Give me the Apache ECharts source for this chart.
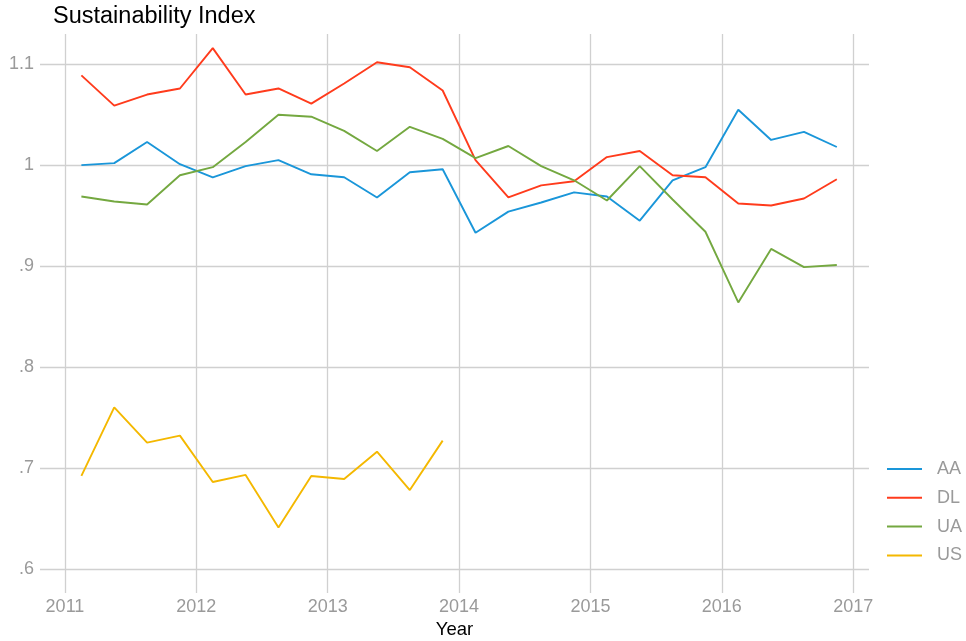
<!DOCTYPE html>
<html>
<head>
<meta charset="UTF-8">
<script src="https://cdn.jsdelivr.net/npm/echarts@6/dist/echarts.min.js"></script>
<style>
  html, body { margin: 0; padding: 0; background: #fff; }
  #chart { width: 966px; height: 641px; }
</style>
</head>
<body>
<div id="chart"></div>
<script>
// quarter midpoints (year as decimal)
var quarters = [2011.125, 2011.375, 2011.625, 2011.875,
                2012.125, 2012.375, 2012.625, 2012.875,
                2013.125, 2013.375, 2013.625, 2013.875,
                2014.125, 2014.375, 2014.625, 2014.875,
                2015.125, 2015.375, 2015.625, 2015.875,
                2016.125, 2016.375, 2016.625, 2016.875];

var aa = [1.000, 1.002, 1.023, 1.001, 0.988, 0.999, 1.005, 0.991, 0.988, 0.968, 0.993, 0.996,
          0.933, 0.954, 0.963, 0.973, 0.969, 0.945, 0.985, 0.998, 1.055, 1.025, 1.033, 1.018];
var dl = [1.089, 1.059, 1.070, 1.076, 1.116, 1.070, 1.076, 1.061, 1.081, 1.102, 1.097, 1.074,
          1.005, 0.968, 0.980, 0.984, 1.008, 1.014, 0.990, 0.988, 0.962, 0.960, 0.967, 0.986];
var ua = [0.969, 0.964, 0.961, 0.990, 0.998, 1.023, 1.050, 1.048, 1.034, 1.014, 1.038, 1.026,
          1.007, 1.019, 0.999, 0.985, 0.965, 0.999, 0.966, 0.934, 0.864, 0.917, 0.899, 0.901];
var us = [0.692, 0.760, 0.725, 0.732, 0.686, 0.693, 0.641, 0.692, 0.689, 0.716, 0.678, 0.727];

var airlines = ['AA', 'DL', 'UA', 'US'];
var colors = ['#1a96d9', '#ff3b1c', '#74a840', '#f4b800'];
var yearTicks = [2011, 2012, 2013, 2014, 2015, 2016, 2017];
var indexTicks = [0.6, 0.7, 0.8, 0.9, 1, 1.1];

function pairs(vals) {
    var out = [];
    for (var i = 0; i < vals.length; i++) {
        out.push([quarters[i], vals[i]]);
    }
    return out;
}

var allVals = [aa, dl, ua, us];
var series = [];
for (var k = 0; k < airlines.length; k++) {
    series.push({
        name: airlines[k],
        type: 'line',
        data: pairs(allVals[k]),
        symbol: 'none',
        lineStyle: { width: 1.9, color: colors[k] },
        itemStyle: { color: colors[k] }
    });
}

var chart = echarts.init(document.getElementById('chart'));
chart.setOption({
    animation: false,
    title: {
        text: 'Sustainability Index',
        left: 53,
        top: 5,
        padding: 0,
        textStyle: { fontFamily: 'Liberation Sans', fontSize: 23.5, fontWeight: 'normal', color: '#000' }
    },
    legend: {
        data: airlines.map(function (n) { return { name: n, icon: 'rect' }; }),
        orient: 'vertical',
        left: 887,
        top: 460,
        padding: 0,
        itemWidth: 35,
        itemHeight: 2,
        itemGap: 10.8,
        textStyle: { fontFamily: 'Liberation Sans', fontSize: 18, color: '#9a9a9a', padding: [0, 0, 0, 10] }
    },
    grid: { left: 40, right: 97, top: 34, bottom: 48, outerBoundsMode: 'none' },
    xAxis: {
        type: 'value',
        min: 2010.81,
        max: 2017.12,
        name: 'Year',
        nameLocation: 'middle',
        nameGap: 27,
        nameTextStyle: { fontFamily: 'Liberation Sans', fontSize: 18.5, color: '#000' },
        axisLine: { show: false },
        axisTick: { show: false, customValues: yearTicks },
        axisLabel: {
            customValues: yearTicks,
            margin: 5,
            fontFamily: 'Liberation Sans', fontSize: 18, color: '#9a9a9a',
            formatter: function (v) { return String(v); }
        },
        splitLine: { show: true, lineStyle: { color: '#d0d0d0', width: 1.3 } }
    },
    yAxis: {
        type: 'value',
        min: 0.576,
        max: 1.13,
        axisLine: { show: false },
        axisTick: { show: false, customValues: indexTicks },
        axisLabel: {
            customValues: indexTicks,
            margin: 6,
            fontFamily: 'Liberation Sans', fontSize: 18, color: '#9a9a9a',
            formatter: function (v) {
                var s = String(Math.round(v * 10) / 10);
                return s.replace(/^0\./, '.');
            }
        },
        splitLine: { show: true, lineStyle: { color: '#d0d0d0', width: 1.3 } }
    },
    series: series
});
</script>
</body>
</html>
